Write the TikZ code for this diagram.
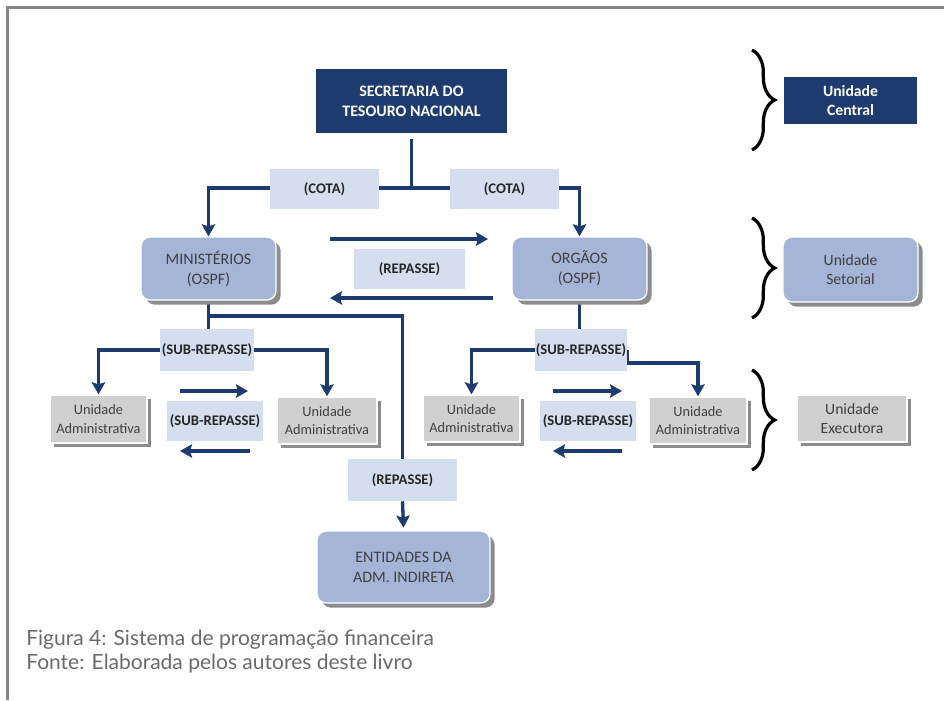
\documentclass[tikz,border=0pt]{standalone}
\usepackage{fontspec}
\setmainfont{Carlito}
\newfontfamily\captionfont{Lato}
\usetikzlibrary{arrows.meta,shadows,backgrounds,decorations.pathreplacing}
\definecolor{tesouronavy}{HTML}{1D3B6E}
\definecolor{labelfill}{HTML}{D5DEEE}
\definecolor{setorfill}{HTML}{A4B5D7}
\definecolor{execfill}{HTML}{D0D0D0}
\definecolor{shadowgray}{HTML}{8C8C8C}
\definecolor{boxtext}{HTML}{404040}
\definecolor{labeltext}{HTML}{262626}
\definecolor{framegray}{HTML}{858585}
\definecolor{captiongray}{HTML}{6A6A6A}

\begin{document}
\begin{tikzpicture}[
  x=0.75pt,
  y=-0.75pt,
  every node/.style={inner sep=0pt, align=center},
  boxsize/.style 2 args={minimum width=#1*0.75pt, minimum height=#2*0.75pt},
  chief/.style={fill=tesouronavy, text=white,
                font=\bfseries\fontsize{12}{15}\selectfont},
  flowlabel/.style={fill=labelfill, text=labeltext,
                    font=\bfseries\fontsize{11}{13}\selectfont},
  setor/.style={fill=setorfill, text=boxtext, draw=white, line width=1pt,
                rounded corners=7pt, font=\fontsize{12}{15}\selectfont,
                drop shadow={shadow xshift=3.5pt, shadow yshift=-3.5pt,
                             fill=shadowgray, opacity=1}},
  exec/.style={fill=execfill, text=boxtext, draw=white, line width=1pt,
               font=\fontsize{10.75}{14}\selectfont,
               drop shadow={shadow xshift=3pt, shadow yshift=-3pt,
                            fill=shadowgray, opacity=1}},
  legendfont/.style={font=\fontsize{11.75}{14.25}\selectfont},
  legendbold/.style={font=\bfseries\fontsize{11.75}{14.25}\selectfont},
  link/.style={tesouronavy, line width=2.5pt},
  flow/.style={link, -{Stealth[length=9pt, width=10pt, inset=1.5pt]}},
  brace/.style={decorate, decoration={brace, amplitude=17pt, aspect=0.5},
                line width=2.4pt, black},
  frame/.style={framegray, line width=2.25pt},
  caption/.style={font=\captionfont\fontsize{15.75}{18}\selectfont,
                  text=captiongray, align=left}
]
  % ---- page frame ----
  \useasboundingbox (0,0) rectangle (944,700);
  \draw[frame] (944,7) -- (7,7) -- (7,700);

  % ---- unidade central ----
  \node[chief, boxsize={191}{64}] (stn) at (411.5,101) {SECRETARIA DO\\TESOURO NACIONAL};
  \node[flowlabel, boxsize={109}{40}] (cotaL) at (324.5,189) {(COTA)};
  \node[flowlabel, boxsize={109}{40}] (cotaR) at (504.5,189) {(COTA)};
  \coordinate (split) at (411.5,188);

  % ---- unidades setoriais ----
  \node[setor, boxsize={135}{63}] (min) at (208.5,268.5) {MINISTÉRIOS\\(OSPF)};
  \node[setor, boxsize={135}{63}] (org) at (579.5,268.5) {ORGÃOS\\(OSPF)};
  \node[flowlabel, boxsize={111}{40}] (repTop) at (409.5,269) {(REPASSE)};
  \coordinate (repGoA) at (330,239);
  \coordinate (repGoB) at (488,239);
  \coordinate (repBackA) at (493,298);
  \coordinate (repBackB) at (330,298);
  \coordinate (tap) at (208.5,316);

  % ---- unidades executoras ----
  \node[flowlabel, boxsize={94}{42}] (subL) at (207,350) {(SUB-REPASSE)};
  \node[flowlabel, boxsize={92}{42}] (subR) at (581,350) {(SUB-REPASSE)};
  \node[exec, boxsize={97}{48}] (uaLL) at (98.5,419) {Unidade\\Administrativa};
  \node[exec, boxsize={100}{47}] (uaLR) at (327,420.5) {Unidade\\Administrativa};
  \node[flowlabel, boxsize={96}{40}] (subLM) at (215,421) {(SUB-REPASSE)};
  \node[exec, boxsize={97}{47}] (uaRL) at (471.5,418.5) {Unidade\\Administrativa};
  \node[exec, boxsize={98}{47}] (uaRR) at (698,420.5) {Unidade\\Administrativa};
  \node[flowlabel, boxsize={96}{40}] (subRM) at (588,421) {(SUB-REPASSE)};
  \coordinate (kneeR) at (698,363);
  \coordinate (subLGoA) at (180,391);
  \coordinate (subLGoB) at (248,391);
  \coordinate (subLBackA) at (250,451);
  \coordinate (subLBackB) at (180,451);
  \coordinate (subRGoA) at (553,391);
  \coordinate (subRGoB) at (622,391);
  \coordinate (subRBackA) at (622,451);
  \coordinate (subRBackB) at (553,451);

  % ---- administracao indireta ----
  \node[flowlabel, boxsize={109}{42}] (repBot) at (402.5,480) {(REPASSE)};
  \node[setor, boxsize={173}{72}] (ent) at (403.5,567) {ENTIDADES DA\\ADM. INDIRETA};

  % ---- legend ----
  \node[chief, boxsize={133}{47}, legendbold] (legCentral) at (850.5,100.5) {Unidade\\Central};
  \node[setor, boxsize={135}{65}, legendfont] (legSetorial) at (850.5,269.5) {Unidade\\Setorial};
  \node[exec, boxsize={110}{47}, legendfont] (legExec) at (852,418.5) {Unidade\\Executora};
  \draw[brace] (752,50) -- (752,150);
  \draw[brace] (752,218) -- (752,318);
  \draw[brace] (752,370) -- (752,470);

  % ---- connectors, under the labels ----
  \begin{pgfonlayer}{background}
    \draw[link] ([yshift=-4pt]stn.south) -- (split);
    \draw[flow] (split) -| (min.north);
    \draw[flow] (split) -| (org.north);
    \draw[flow] (repGoA) -- (repGoB);
    \draw[flow] (repBackA) -- (repBackB);
    \draw[link] (min.south) -- (min.south |- subL.center);
    \draw[link] (org.south) -- (org.south |- subR.center);
    \draw[flow] (subL.west) -| (uaLL.north);
    \draw[flow] (subL.east) -| (uaLR.north);
    \draw[flow] (subR.west) -| (uaRL.north);
    \draw[flow] (subR.east) |- (kneeR) -- (uaRR.north);
    \draw[flow] (subLGoA) -- (subLGoB);
    \draw[flow] (subLBackA) -- (subLBackB);
    \draw[flow] (subRGoA) -- (subRGoB);
    \draw[flow] (subRBackA) -- (subRBackB);
    \draw[link] (tap) -| (repBot.north);
    \draw[flow] (repBot.south) -- ([yshift=2pt]ent.north);
  \end{pgfonlayer}

  % ---- caption ----
  \node[caption, anchor=base west] (figCap) at (26,645) {Figura 4: Sistema de programação financeira};
  \node[caption, anchor=base west] (srcCap) at (26,669) {Fonte: Elaborada pelos autores deste livro};
\end{tikzpicture}
\end{document}
